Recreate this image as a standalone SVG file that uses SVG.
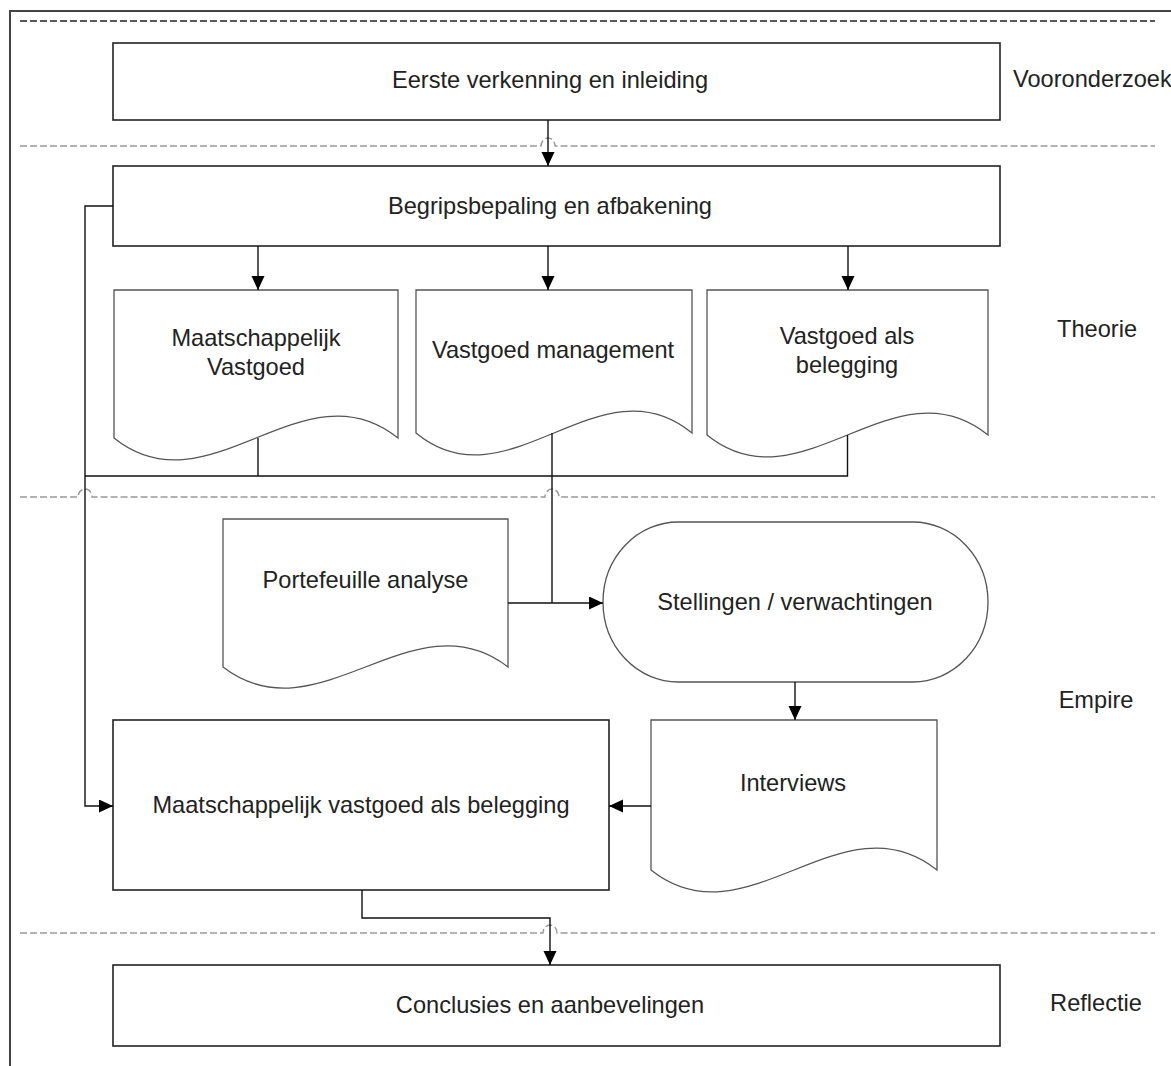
<svg xmlns="http://www.w3.org/2000/svg" width="1171" height="1066" viewBox="0 0 1171 1066">
<style>
text{font-family:"Liberation Sans",Arial,sans-serif;font-size:23.6px;fill:#222;}
.c{text-anchor:middle;}
.box{fill:#fff;stroke:#222;stroke-width:1.6;}
.doc{fill:#fff;stroke:#555;stroke-width:1.3;}
.conn{fill:none;stroke:#111;stroke-width:1.4;}
.sep{fill:none;stroke:#999;stroke-width:1.4;stroke-dasharray:7 3;}
.sep0{fill:none;stroke:#222;stroke-width:1.6;stroke-dasharray:7 3;}
</style>
<defs>
<marker id="arr" markerUnits="userSpaceOnUse" markerWidth="15" markerHeight="15" refX="14" refY="6.5" orient="auto">
<path d="M0,0 L14,6.5 L0,13 Z" fill="#000"/>
</marker>
</defs>
<rect width="1171" height="1066" fill="#fff"/>
<path d="M10,1066 V11 H1171" fill="none" stroke="#444" stroke-width="2"/>
<g id="separators">
<path class="sep0" d="M20,21 H1155"/>
<path class="sep" d="M20,146 H541 A7,8 0 0 1 555,146 H1155"/>
<path class="sep" d="M20,497 H78 A7,8 0 0 1 92,497 H545 A7,8 0 0 1 559,497 H1155"/>
<path class="sep" d="M20,933 H543 A7,8 0 0 1 557,933 H1155"/>
</g>
<g id="phase-labels">
<text x="1013" y="87">Vooronderzoek</text>
<text x="1097" y="337" class="c">Theorie</text>
<text x="1096" y="708" class="c">Empire</text>
<text x="1096" y="1011" class="c">Reflectie</text>
</g>
<g id="n-verkenning">
<rect class="box" x="113" y="43" width="887" height="77"/>
<text x="550" y="88" class="c">Eerste verkenning en inleiding</text>
</g>
<g id="n-begrip">
<rect class="box" x="113" y="166" width="887" height="80"/>
<text x="550" y="214" class="c">Begripsbepaling en afbakening</text>
</g>
<g id="n-maatschappelijk">
<path class="doc" d="M114,290 H398 V438 C303.3,362 208.7,514 114,438 Z"/>
<text x="256" y="346" class="c">Maatschappelijk</text>
<text x="256" y="375" class="c">Vastgoed</text>
</g>
<g id="n-management">
<path class="doc" d="M416,290 H692 V433 C600,357 508,509 416,433 Z"/>
<text x="553" y="358" class="c">Vastgoed management</text>
</g>
<g id="n-belegging">
<path class="doc" d="M707,290 H988 V435 C894.3,359 800.7,511 707,435 Z"/>
<text x="847" y="344" class="c">Vastgoed als</text>
<text x="847" y="373" class="c">belegging</text>
</g>
<g id="n-portefeuille">
<path class="doc" d="M223,519 H508 V667 C413,594 318,740 223,667 Z"/>
<text x="365.5" y="588" class="c">Portefeuille analyse</text>
</g>
<g id="n-stellingen">
<rect class="doc" x="603" y="522" width="385" height="160" rx="75" ry="80"/>
<text x="795" y="610" class="c">Stellingen / verwachtingen</text>
</g>
<g id="n-interviews">
<path class="doc" d="M651,720 H937 V870 C841.7,794 746.3,946 651,870 Z"/>
<text x="793" y="791" class="c">Interviews</text>
</g>
<g id="n-mvb">
<rect class="box" x="113" y="720" width="496" height="170"/>
<text x="361" y="813" class="c">Maatschappelijk vastgoed als belegging</text>
</g>
<g id="n-conclusies">
<rect class="box" x="113" y="965" width="887" height="81"/>
<text x="550" y="1013" class="c">Conclusies en aanbevelingen</text>
</g>
<g id="connectors">
<path class="conn" d="M548,120 V166" marker-end="url(#arr)"/>
<path class="conn" d="M258,246 V290" marker-end="url(#arr)"/>
<path class="conn" d="M548,246 V290" marker-end="url(#arr)"/>
<path class="conn" d="M848,246 V290" marker-end="url(#arr)"/>
<path class="conn" d="M258,438 V476"/>
<path class="conn" d="M847.5,435 V476 H85"/>
<path class="conn" d="M113,206 H85 V806 H113" marker-end="url(#arr)"/>
<path class="conn" d="M552,433 V603"/>
<path class="conn" d="M508,603 H603" marker-end="url(#arr)"/>
<path class="conn" d="M795,682 V720" marker-end="url(#arr)"/>
<path class="conn" d="M651,806 H609" marker-end="url(#arr)"/>
<path class="conn" d="M362,890 V918 H550 V965" marker-end="url(#arr)"/>
</g>
</svg>
